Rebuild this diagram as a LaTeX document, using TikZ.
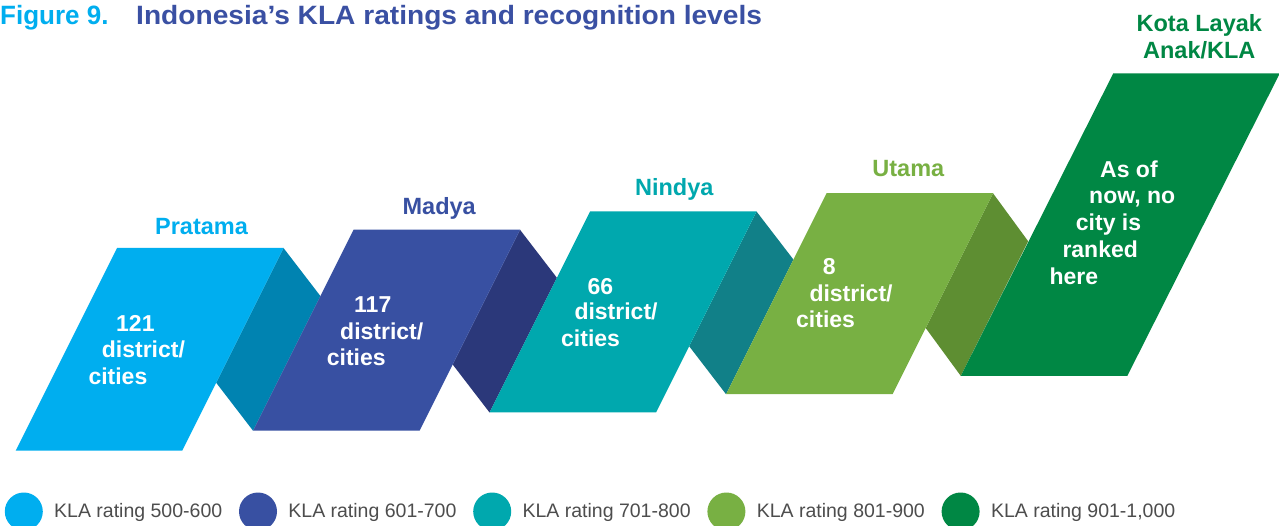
\documentclass[tikz,border=0pt]{standalone}
\usepackage{fontspec}
\setmainfont{Liberation Sans}
\usepackage{graphicx}
\definecolor{cPra}{HTML}{00AEEF}
\definecolor{cPraD}{HTML}{0083B1}
\definecolor{cMad}{HTML}{3850A2}
\definecolor{cMadD}{HTML}{2B387A}
\definecolor{cNin}{HTML}{00A8AE}
\definecolor{cNinD}{HTML}{118088}
\definecolor{cUta}{HTML}{78B043}
\definecolor{cUtaD}{HTML}{5E8E32}
\definecolor{cKla}{HTML}{008744}
\definecolor{cTitle}{HTML}{3A50A3}
\definecolor{cLeg}{HTML}{4D4D4D}
\begin{document}
\begin{tikzpicture}[x=1pt,y=-1pt,
  lbl/.style={anchor=base, inner sep=0, font=\bfseries\fontsize{23.5}{26}\selectfont},
  body/.style={anchor=base west, inner sep=0, text=white, font=\bfseries\fontsize{23}{26}\selectfont},
  legtxt/.style={anchor=base west, inner sep=0, text=cLeg, font=\fontsize{19.5}{22}\selectfont}]
\clip (0,0) rectangle (1279,526);
\fill[white] (0,0) rectangle (1279,526);
% folds
\fill[cPraD] (283.5,248) -- (216.15,382.7) -- (253.025,430.7) -- (320.375,296) -- cycle;
\fill[cMadD] (520,229.75) -- (452.65,364.45) -- (489.525,412.45) -- (556.875,277.75) -- cycle;
\fill[cNinD] (756.5,211.5) -- (689.15,346.2) -- (726.025,394.2) -- (793.375,259.5) -- cycle;
\fill[cUtaD] (993,193.25) -- (925.65,327.95) -- (960.8,375.95) -- (1028.15,241.25) -- cycle;
% fronts
\fill[cPra] (117,248) -- (283.5,248) -- (182.15,450.7) -- (15.65,450.7) -- cycle;
\fill[cMad] (353.5,229.75) -- (520,229.75) -- (419.525,430.7) -- (253.025,430.7) -- cycle;
\fill[cNin] (590,211.5) -- (756.5,211.5) -- (656.025,412.45) -- (489.525,412.45) -- cycle;
\fill[cUta] (826.5,193.25) -- (993,193.25) -- (892.525,394.2) -- (726.025,394.2) -- cycle;
\fill[cKla] (1113.3,73.3) -- (1279.8,73.3) -- (1127.3,375.95) -- (960.8,375.95) -- cycle;
% title
\node[anchor=base west, inner sep=0, text=cPra] (fig) at (0,25)
  {\resizebox{108.3pt}{\height}{\fontsize{26.5}{30}\selectfont\bfseries Figure 9.}};
\node[anchor=base west, inner sep=0, text=cTitle] (title) at (136,25)
  {\resizebox{625.7pt}{\height}{\fontsize{26.5}{30}\selectfont\bfseries Indonesia’s KLA ratings and recognition levels}};
% level labels
\node[lbl, text=cPra] (lPra) at (201.5,234.3) {Pratama};
\node[lbl, text=cMad] (lMad) at (439.2,215) {Madya};
\node[lbl, text=cNin] (lNin) at (674.2,196) {Nindya};
\node[lbl, text=cUta] (lUta) at (908.3,176.7) {Utama};
\node[lbl, text=cKla] (lKla1) at (1199.3,31.7) {Kota Layak};
\node[lbl, text=cKla] (lKla2) at (1199.3,58.3) {Anak/KLA};
% body texts
\node[body] (p1) at (116,331) {121};
\node[body] (p2) at (101.7,357.7) {district/};
\node[body] (p3) at (88.3,384.3) {cities};
\node[body] (m1) at (354,312.7) {117};
\node[body] (m2) at (340,339.3) {district/};
\node[body] (m3) at (326.7,365) {cities};
\node[body] (n1) at (587.3,294.3) {66};
\node[body] (n2) at (574.3,320) {district/};
\node[body] (n3) at (561,346) {cities};
\node[body] (u1) at (822.7,275) {8};
\node[body] (u2) at (809.3,301.7) {district/};
\node[body] (u3) at (796,327.7) {cities};
\node[body] (k1) at (1100,177.7) {As of};
\node[body] (k2) at (1089,204) {now, no};
\node[body] (k3) at (1075.7,230.7) {city is};
\node[body] (k4) at (1062.3,257.7) {ranked};
\node[body] (k5) at (1049.3,284.3) {here};
% legend
\fill[cPra] (23.8,511.5) circle (19);
\fill[cMad] (258,511.5) circle (19);
\fill[cNin] (492.2,511.5) circle (19);
\fill[cUta] (726.4,511.5) circle (19);
\fill[cKla] (960.6,511.5) circle (19);
\node[legtxt] (g1) at (54,517.3) {KLA rating 500-600};
\node[legtxt] (g2) at (288.2,517.3) {KLA rating 601-700};
\node[legtxt] (g3) at (522.4,517.3) {KLA rating 701-800};
\node[legtxt] (g4) at (756.6,517.3) {KLA rating 801-900};
\node[legtxt] (g5) at (990.8,517.3) {KLA rating 901-1,000};
\end{tikzpicture}
\end{document}
